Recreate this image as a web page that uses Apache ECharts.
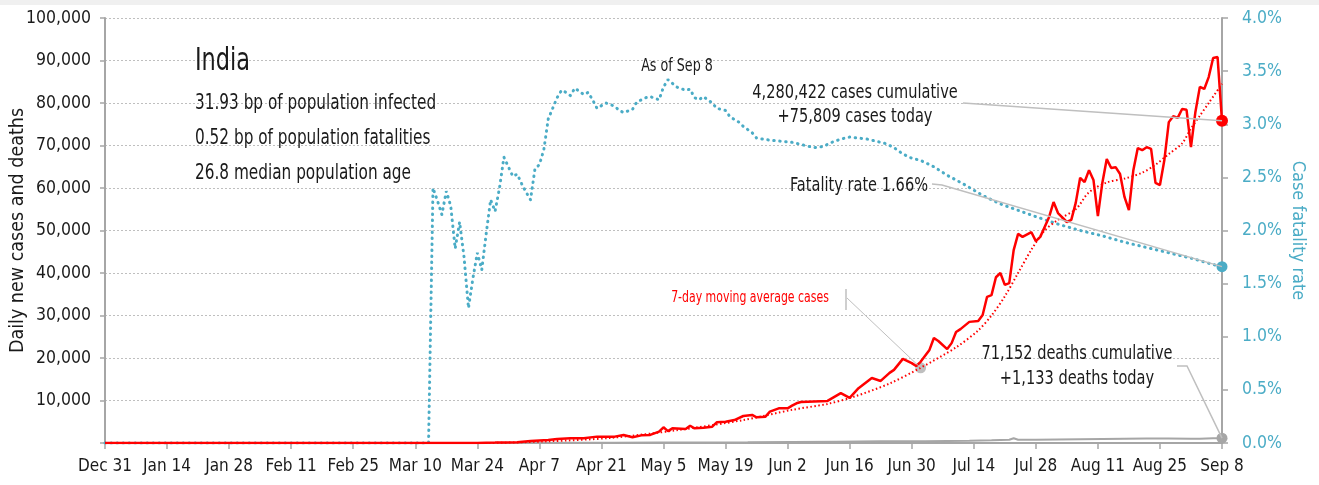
<!DOCTYPE html>
<html><head><meta charset="utf-8">
<script src="https://cdn.jsdelivr.net/npm/echarts@6/dist/echarts.min.js"></script>
<style>html,body{margin:0;padding:0;background:#fff}#c{width:1319px;height:485px}</style>
</head><body><div id="c"></div>
<script>
// ---- data (x = days since Dec 31, 2019) ----
const xTickLabels = ['Dec 31','Jan 14','Jan 28','Feb 11','Feb 25','Mar 10','Mar 24','Apr 7','Apr 21','May 5','May 19','Jun 2','Jun 16','Jun 30','Jul 14','Jul 28','Aug 11','Aug 25','Sep 8'];
const leftTickLabels = ['','10,000','20,000','30,000','40,000','50,000','60,000','70,000','80,000','90,000','100,000'];
const rightTickLabels = ['0.0%','0.5%','1.0%','1.5%','2.0%','2.5%','3.0%','3.5%','4.0%'];

const dailyCases = [[0,0],[84,0],[86,80],[88,100],[90,130],[93,200],[96,470],[99,650],[100,700],[102,940],[105,1100],[108,1100],[111,1500],[115,1500],[117,1900],[119,1350],[121,1800],[123,1900],[125,2660],[126,3700],[127,2800],[128,3450],[131,3300],[132,4070],[133,3450],[135,3600],[137,3850],[138,4870],[140,5000],[142,5400],[144,6350],[146,6600],[147,6050],[149,6200],[150,7370],[152,8160],[154,8160],[155,8780],[156,9340],[157,9650],[163,9900],[166,11750],[168,10600],[170,12900],[173,15300],[175,14600],[177,16500],[178,17200],[180,19800],[182,18800],[183,18100],[184,19100],[186,21900],[187,24700],[188,24000],[190,22100],[191,23500],[192,26100],[193,26800],[195,28500],[197,28700],[198,30100],[199,34400],[200,34800],[201,39000],[202,40000],[203,37200],[204,37600],[205,45400],[206,49200],[207,48500],[209,49600],[210,47500],[211,48500],[213,53200],[214,56700],[215,54100],[217,52000],[218,52500],[219,56500],[220,62400],[221,61400],[222,64200],[223,61900],[224,53400],[225,61200],[226,66800],[227,64700],[228,64900],[229,63300],[230,57900],[231,54800],[232,64200],[233,69400],[234,68900],[235,69600],[236,69200],[237,61200],[238,60700],[239,66600],[240,75500],[241,76900],[242,76500],[243,78600],[244,78400],[245,69600],[246,77900],[247,83800],[248,83300],[249,86100],[250,90600],[251,90800],[252,75809]];

const casesTrend = [[0,0],[85,0],[100,400],[114,1200],[129,3000],[144,5400],[155,7800],[163,9200],[169,10900],[177,14000],[184,17700],[192,22500],[197,26500],[200,30000],[203,34500],[206,40000],[209,45500],[212,50000],[215,52500],[219,55000],[222,59000],[226,61300],[230,62200],[234,63600],[237,65500],[240,68000],[243,70500],[245,74000],[247,77000],[249,80000],[252,84500]];

const dailyDeaths = [[0,0],[80,0],[95,20],[105,40],[115,50],[125,90],[135,120],[145,150],[155,250],[165,320],[175,400],[185,420],[195,550],[200,650],[204,750],[205,1120],[206,750],[210,780],[215,850],[220,900],[225,950],[230,1000],[235,1050],[240,1050],[245,1000],[247,1000],[250,1100],[252,1133]];

const fatalityRate = [[0,0],[73,0],[74,2.40],[75,2.28],[76,2.15],[77,2.37],[78,2.23],[79,1.83],[80,2.08],[81,1.75],[82,1.27],[83,1.55],[84,1.79],[85,1.63],[86,1.97],[87,2.29],[88,2.18],[89,2.40],[90,2.69],[91,2.60],[92,2.51],[93,2.53],[94,2.44],[95,2.36],[96,2.29],[97,2.58],[98,2.62],[99,2.76],[100,3.05],[101,3.15],[102,3.25],[103,3.32],[104,3.30],[105,3.27],[106,3.34],[108,3.28],[109,3.30],[110,3.23],[111,3.15],[113,3.20],[115,3.17],[116,3.13],[117,3.11],[119,3.14],[120,3.21],[122,3.25],[123,3.26],[125,3.23],[126,3.35],[127,3.42],[129,3.35],[131,3.32],[132,3.33],[133,3.25],[134,3.23],[135,3.26],[137,3.20],[138,3.15],[140,3.13],[141,3.07],[143,3.02],[144,2.98],[146,2.92],[147,2.87],[150,2.85],[155,2.83],[158,2.80],[160,2.78],[162,2.79],[164,2.83],[166,2.86],[168,2.88],[170,2.87],[172,2.86],[174,2.84],[176,2.82],[178,2.78],[180,2.72],[182,2.68],[184,2.66],[187,2.60],[190,2.52],[194,2.43],[198,2.33],[202,2.25],[206,2.19],[210,2.13],[215,2.06],[220,2.00],[225,1.95],[230,1.89],[235,1.84],[240,1.79],[245,1.74],[250,1.68],[252,1.66]];

const titleText = 'India';
const infoLines = ['31.93 bp of population infected','0.52 bp of population fatalities','26.8 median population age'];
const asOfText = 'As of Sep 8';
const casesNote = ['4,280,422 cases cumulative','+75,809 cases today'];
const deathsNote = ['71,152 deaths cumulative','+1,133 deaths today'];
const fatalityNote = 'Fatality rate 1.66%';
const trendNote = '7-day moving average cases';
const trendMarkDay = 184;

// ---- styles ----
const FF = '"DejaVu Sans Condensed", "DejaVu Sans", sans-serif';
const BLUE = '#4bacc6', RED = '#ff0000', GRAY = '#a6a6a6', LEAD = '#bfbfbf', TXT = '#1a1a1a';
const SQ = 0.81; // horizontal squeeze for annotation text

const chart = echarts.init(document.getElementById('c'), null, {renderer:'canvas'});
const last = a => a[a.length-1];

chart.setOption({
  animation:false,
  backgroundColor:'#fff',
  textStyle:{fontFamily:FF},
  grid:{left:105, right:97, top:18, bottom:42, containLabel:false, outerBoundsMode:'none'},
  xAxis:{type:'value', min:0, max:252, interval:14,
    axisLine:{show:true, lineStyle:{color:GRAY, width:2}},
    axisTick:{show:true, length:6, lineStyle:{color:GRAY, width:1.5}},
    axisLabel:{formatter:v=>xTickLabels[Math.round(v/14)]||'', fontSize:17, color:TXT, margin:15, fontFamily:FF},
    splitLine:{show:false}},
  yAxis:[
    {type:'value', min:0, max:100000, interval:10000, position:'left',
      name:'Daily new cases and deaths', nameLocation:'middle', nameGap:77, nameMoveOverlap:false,
      nameTextStyle:{fontSize:19.5, color:TXT, fontFamily:FF},
      axisLine:{show:true, lineStyle:{color:GRAY, width:2}},
      axisTick:{show:true, length:5, lineStyle:{color:GRAY, width:1.5}},
      axisLabel:{formatter:v=>leftTickLabels[Math.round(v/10000)]||'', fontSize:17.5, color:TXT, margin:14, fontFamily:FF},
      splitLine:{show:true, lineStyle:{color:LEAD, type:[2,2], width:1}}},
    {type:'value', min:0, max:4, interval:0.5, position:'right',
      name:'Case fatality rate', nameLocation:'middle', nameGap:67, nameRotate:-90, nameMoveOverlap:false,
      nameTextStyle:{fontSize:18, color:BLUE, fontFamily:FF},
      axisLine:{show:true, lineStyle:{color:GRAY, width:2}},
      axisTick:{show:true, length:6, lineStyle:{color:GRAY, width:1.5}},
      axisLabel:{formatter:v=>rightTickLabels[Math.round(v*2)]||'', fontSize:17.5, color:BLUE, margin:20, fontFamily:FF},
      splitLine:{show:false}}
  ],
  series:[
    {name:'deaths', type:'line', yAxisIndex:0, data:dailyDeaths, showSymbol:false, symbol:'none',
      lineStyle:{color:GRAY, width:2}, z:3,
      markPoint:{symbol:'circle', symbolSize:11, silent:true, label:{show:false},
        itemStyle:{color:GRAY}, data:[{coord:last(dailyDeaths)}]}},
    {name:'cfr', type:'line', yAxisIndex:1, data:fatalityRate, showSymbol:false, symbol:'none',
      lineStyle:{color:BLUE, width:3, type:[0.5,5.5], cap:'round'}, z:4,
      markPoint:{symbol:'circle', symbolSize:11, silent:true, label:{show:false},
        itemStyle:{color:BLUE}, data:[{coord:last(fatalityRate)}]}},
    {name:'trend', type:'line', yAxisIndex:0, data:casesTrend, showSymbol:false, symbol:'none', smooth:0.3,
      lineStyle:{color:RED, width:2, type:[1.5,2.5]}, z:5,
      markPoint:{symbol:'circle', symbolSize:11, silent:true, label:{show:false},
        itemStyle:{color:'#bfbfbf'}, data:[{coord:casesTrend.find(p=>p[0]===trendMarkDay)}]}},
    {name:'cases', type:'line', yAxisIndex:0, data:dailyCases, showSymbol:false, symbol:'none',
      lineStyle:{color:RED, width:2.5}, z:6,
      markPoint:{symbol:'circle', symbolSize:12, silent:true, label:{show:false},
        itemStyle:{color:RED}, data:[{coord:last(dailyCases)}]}}
  ]
});

const px = (p, yi) => chart.convertToPixel({xAxisIndex:0, yAxisIndex:yi}, p);
const pCases = px(last(dailyCases),0);
const pCfr = px(last(fatalityRate),1);
const pDeaths = px(last(dailyDeaths),0);
const pTrend = px(casesTrend.find(p=>p[0]===trendMarkDay),0);

function txt(text, x, y, size, opts){
  opts = opts||{};
  return {type:'text', silent:true, z:20, x, y, scaleX:opts.sq||SQ, scaleY:1,
    style:{text, x:0, y:0, fill:opts.fill||TXT,
    font:size+'px '+FF, align:opts.align||'left', verticalAlign:'middle',
    textAlign:opts.align||'left', textVerticalAlign:'middle'}};
}
function pl(points, width){
  return {type:'polyline', silent:true, z:15, shape:{points}, style:{stroke:LEAD, lineWidth:width||1.5, fill:null}};
}

const g = [
  {type:'rect', silent:true, z:0, shape:{x:0,y:0,width:1319,height:5}, style:{fill:'#f0f0f0'}},
  txt(titleText, 195, 62, 32, {sq:0.78}),
  txt(infoLines[0], 195, 104, 21),
  txt(infoLines[1], 195, 139, 21),
  txt(infoLines[2], 195, 174, 21),
  txt(asOfText, 677, 67, 17, {align:'center', sq:0.83}),
  txt(casesNote[0], 855, 93, 20, {align:'center'}),
  txt(casesNote[1], 855, 117, 20, {align:'center'}),
  txt(fatalityNote, 928, 186, 20, {align:'right'}),
  txt(trendNote, 750, 298, 15, {align:'center', fill:RED}),
  txt(deathsNote[0], 1077, 354, 20, {align:'center'}),
  txt(deathsNote[1], 1077, 379, 20, {align:'center'}),
  pl([[963,103],pCases],1.5),
  pl([[932,184],[942,185],pCfr],1.5),
  pl([[846,289],[846,310]],1.5),
  pl([[847,298],pTrend],1),
  pl([[1177,366],[1187,366],pDeaths],1.5)
];
chart.setOption({graphic:g});
</script></body></html>
